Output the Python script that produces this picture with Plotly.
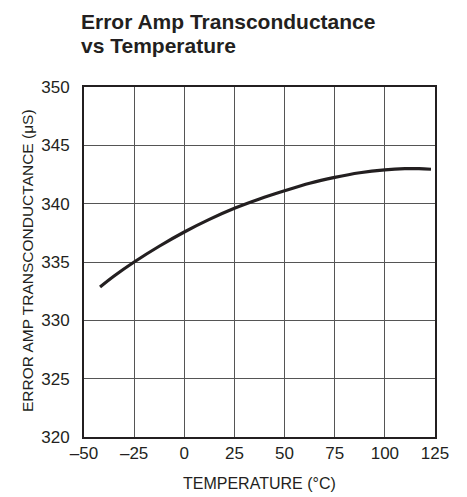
import plotly.graph_objects as go

temperature = [-42, -35, -25, -12.5, 0, 12.5, 25, 37.5, 50, 62.5, 75, 87.5, 100, 110, 117, 123]
transconductance = [332.86, 333.8, 335.0, 336.35, 337.57, 338.65, 339.6, 340.4, 341.1, 341.75, 342.25, 342.65, 342.9, 343.0, 343.0, 342.95]

x_tickvals = [-50, -25, 0, 25, 50, 75, 100, 125]
x_ticktext = ["\u201350", "\u201325", "0", "25", "50", "75", "100", "125"]
y_tickvals = [320, 325, 330, 335, 340, 345, 350]

FONT = "Liberation Sans, Arial, sans-serif"
INK = "#231f20"

# plot area in pixels
L, R, T, B = 84, 435, 87, 437
W, H = 467, 497


def px(xp):
    return (xp - L) / (R - L)


def py(yp):
    return (B - yp) / (B - T)


fig = go.Figure()
fig.add_trace(go.Scatter(
    x=temperature, y=transconductance, mode="lines",
    line=dict(color=INK, width=3.2, shape="spline", smoothing=1.0),
    hoverinfo="skip", showlegend=False,
))

axis_common = dict(
    showgrid=True, gridcolor="#555555", gridwidth=1,
    showline=True, linecolor=INK, linewidth=2, mirror=True,
    zeroline=False, ticks="", automargin=False,
    tickfont=dict(family=FONT, size=17, color=INK),
)

fig.update_xaxes(range=[-50, 125], tickvals=x_tickvals, ticktext=x_ticktext,
                 ticklabelstandoff=0, **axis_common)
fig.update_yaxes(range=[320, 350], tickvals=y_tickvals,
                 ticklabelstandoff=9, **axis_common)

annotations = [
    dict(text="<b>Error Amp Transconductance</b>", x=px(79), y=py(21.5),
         xanchor="left", yanchor="middle", font=dict(family=FONT, size=21, color=INK)),
    dict(text="<b>vs Temperature</b>", x=px(79), y=py(45.5),
         xanchor="left", yanchor="middle", font=dict(family=FONT, size=21, color=INK)),
    dict(text="TEMPERATURE (\u00b0C)", x=0.5, y=py(483),
         xanchor="center", yanchor="middle", font=dict(family=FONT, size=16, color=INK)),
    dict(text="ERROR AMP TRANSCONDUCTANCE (\u03bcS)", x=px(27), y=py(261),
         xanchor="center", yanchor="middle", textangle=-90,
         font=dict(family=FONT, size=15.5, color=INK)),
]
for a in annotations:
    a.update(xref="paper", yref="paper", showarrow=False)

fig.update_layout(
    width=W, height=H,
    margin=dict(l=L, r=W - R, t=T, b=H - B),
    paper_bgcolor="white", plot_bgcolor="white",
    annotations=annotations,
)

fig.write_html(
    "out.html",
    config={"displayModeBar": False, "staticPlot": True},
    post_script="document.body.style.margin='0';document.body.style.overflow='hidden';",
)
